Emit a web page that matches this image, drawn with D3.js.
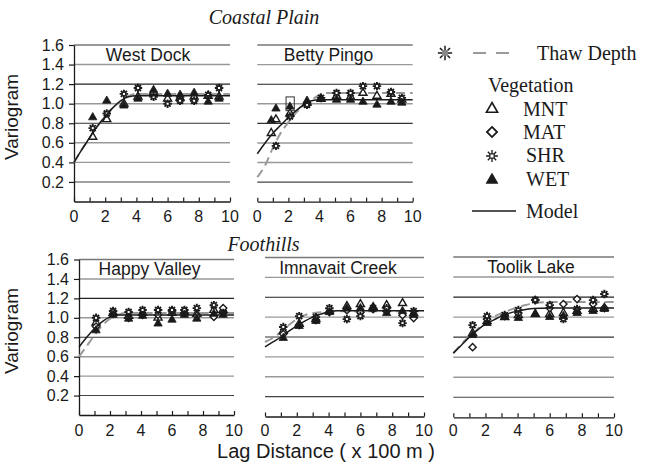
<!DOCTYPE html>
<html><head><meta charset="utf-8">
<script src="https://cdn.jsdelivr.net/npm/d3@7"></script>
<style>body{margin:0;background:#fff}svg{display:block}</style>
</head><body><svg id="c" width="653" height="470"></svg>
<script>
// ---------------- DATA ----------------
const yTicks = [0.2, 0.4, 0.6, 0.8, 1.0, 1.2, 1.4, 1.6];
const xTickLabels = [0, 2, 4, 6, 8, 10];
const xTicks = [0, 1, 2, 3, 4, 5, 6, 7, 8, 9, 10];
const vegTypes = ["MNT", "MAT", "SHR", "WET"];

// West Dock
const wdLag = [1.2, 2.1, 3.2, 4.1, 5.1, 6.0, 6.8, 7.7, 8.6, 9.3];
const wdMNT = [0.66, 0.84, 1.00, 1.07, 1.12, 1.05, 1.06, 1.07, 1.08, 1.07];
const wdMAT = [null, null, null, null, null, null, null, null, null, null];
const wdSHR = [0.75, 0.90, 1.10, 1.16, 1.07, 1.00, 1.03, 1.03, 1.09, 1.16];
const wdWET = [0.86, 1.03, 0.98, 1.05, 1.14, 1.10, 1.09, 1.11, 1.02, 1.05];

// Betty Pingo
const bpLag = [0.9, 1.2, 2.1, 3.2, 4.1, 5.1, 6.0, 6.8, 7.7, 8.6, 9.3];
const bpMNT = [0.70, 0.84, 0.90, 1.01, 1.05, 1.08, 1.07, 1.11, 1.08, 1.10, 1.04];
const bpMAT = [null, null, null, null, null, null, null, null, null, null, null];
const bpSHR = [null, 0.57, 0.87, 0.99, 1.06, 1.11, 1.11, 1.18, 1.18, 1.12, 1.06];
const bpWET = [0.83, 0.95, 0.97, 1.03, 1.05, 1.04, 1.04, 1.02, 0.99, 1.02, 1.01];
const bpBox = [1.85, 2.38, 0.93, 1.07]; // lag from, lag to, value from, value to

// Happy Valley
const hvLag = [1.1, 2.2, 3.2, 4.1, 5.1, 6.0, 6.8, 7.6, 8.7, 9.3];
const hvMNT = [0.95, 1.05, 1.02, 1.05, 1.00, 1.05, 1.06, 1.04, 1.08, 1.08];
const hvMAT = [0.91, 1.04, 1.00, 1.03, 1.03, 1.07, 1.05, 1.02, 1.01, 1.10];
const hvSHR = [1.00, 1.07, 1.06, 1.08, 1.08, 1.08, 1.08, 1.10, 1.13, 1.05];
const hvWET = [0.87, 1.03, 0.99, 1.02, 0.94, 0.98, 1.03, 0.99, 1.04, 1.03];

// Imnavait Creek
const icLag = [1.15, 2.15, 3.2, 4.05, 5.15, 6.0, 6.8, 7.65, 8.65, 9.35];
const icMNT = [0.86, 0.93, 0.98, 1.06, 1.11, 1.13, 1.10, 1.12, 1.14, 1.04];
const icMAT = [0.83, 0.92, 0.97, 1.05, 1.07, 1.05, 1.08, 1.06, 1.02, 0.99];
const icSHR = [0.90, 1.01, 1.00, 1.09, 0.98, 1.01, 1.09, 1.09, 0.94, 1.06];
const icWET = [0.79, 0.91, 0.96, 1.05, 1.09, 1.09, 1.09, 1.04, 1.06, 1.02];

// Toolik Lake
const tlLag = [1.2, 2.1, 3.2, 4.05, 5.1, 6.0, 6.85, 7.7, 8.7, 9.4];
const tlMNT = [0.84, 0.96, 1.00, 1.02, 1.03, 1.03, 1.04, 1.06, 1.08, 1.09];
const tlMAT = [0.70, 0.98, 1.01, 1.04, 1.17, 1.09, 1.13, 1.18, 1.13, 1.09];
const tlSHR = [0.92, 1.01, 1.02, 1.07, 1.17, 1.12, 0.98, 1.08, 1.17, 1.23];
const tlWET = [0.82, 0.94, 1.00, 0.99, 1.03, 1.00, 1.01, 1.04, 1.06, 1.08];

// Model (solid) and thaw-depth (dashed) curves
const curveLag = [0, 0.5, 1, 1.5, 2, 2.5, 3, 3.5, 4, 4.5, 5, 6, 7, 8, 9, 10];
const wdModel = [0.40, 0.53, 0.65, 0.77, 0.87, 0.96, 1.03, 1.07, 1.08, 1.08, 1.08, 1.08, 1.08, 1.08, 1.08, 1.08];
const wdThaw  = [0.40, 0.53, 0.65, 0.77, 0.87, 0.96, 1.03, 1.08, 1.10, 1.10, 1.10, 1.10, 1.10, 1.10, 1.10, 1.10];
const bpModel = [0.49, 0.60, 0.70, 0.78, 0.86, 0.93, 0.99, 1.03, 1.04, 1.04, 1.04, 1.04, 1.04, 1.04, 1.04, 1.04];
const bpThaw  = [0.25, 0.37, 0.55, 0.70, 0.81, 0.91, 0.98, 1.04, 1.09, 1.11, 1.11, 1.11, 1.11, 1.11, 1.11, 1.11];
const hvModel = [0.70, 0.80, 0.89, 0.96, 1.01, 1.03, 1.03, 1.03, 1.03, 1.03, 1.03, 1.03, 1.03, 1.03, 1.03, 1.03];
const hvThaw  = [0.60, 0.71, 0.82, 0.92, 0.99, 1.03, 1.05, 1.05, 1.05, 1.05, 1.05, 1.05, 1.05, 1.05, 1.05, 1.05];
const icModel = [0.70, 0.75, 0.80, 0.86, 0.91, 0.96, 1.00, 1.03, 1.055, 1.065, 1.065, 1.065, 1.065, 1.065, 1.065, 1.065];
const icThaw  = [0.75, 0.79, 0.85, 0.92, 0.98, 1.02, 1.04, 1.05, 1.055, 1.06, 1.06, 1.06, 1.06, 1.06, 1.06, 1.06];
const tlModel = [0.64, 0.72, 0.80, 0.87, 0.93, 0.97, 1.01, 1.04, 1.06, 1.075, 1.085, 1.09, 1.09, 1.09, 1.09, 1.09];
const tlThaw  = [0.64, 0.73, 0.81, 0.88, 0.95, 1.00, 1.04, 1.07, 1.10, 1.12, 1.14, 1.15, 1.15, 1.15, 1.15, 1.15];

// ---------------- LAYOUT / STYLE ----------------
const SANS = "'Liberation Sans', Arial, Helvetica, sans-serif";
const SERIF = "'Liberation Serif', 'Times New Roman', serif";
const INK = "#1a1a1a";
const GRAY = "#9a9a9a";
const gridStyle = { // per level
  "0.2": ["#444", 1.1], "0.4": ["#999", 1.4], "0.6": ["#999", 1.4], "0.8": ["#333", 1.1],
  "1": ["#999", 1.4], "1.2": ["#222", 1.1], "1.4": ["#999", 1.4], "1.6": ["#777", 1.3]
};

const panels = [
  {title: "West Dock", lag: wdLag, s: {MNT: wdMNT, MAT: wdMAT, SHR: wdSHR, WET: wdWET}, model: wdModel, thaw: wdThaw,
   x0: 74, x1: 230, yTop: 45, yBot: 201.5, yAxis: true, tx: 148, ty: 61, lblY: 222},
  {title: "Betty Pingo", lag: bpLag, s: {MNT: bpMNT, MAT: bpMAT, SHR: bpSHR, WET: bpWET}, model: bpModel, thaw: bpThaw, box: bpBox,
   x0: 257.3, x1: 412.7, yTop: 45, yBot: 201.7, yAxis: false, tx: 328.5, ty: 61, lblY: 222},
  {title: "Happy Valley", lag: hvLag, s: {MNT: hvMNT, MAT: hvMAT, SHR: hvSHR, WET: hvWET}, model: hvModel, thaw: hvThaw,
   x0: 79, x1: 234, yTop: 259.5, yBot: 415, yAxis: true, tx: 149.5, ty: 275, lblY: 436},
  {title: "Imnavait Creek", lag: icLag, s: {MNT: icMNT, MAT: icMAT, SHR: icSHR, WET: icWET}, model: icModel, thaw: icThaw,
   x0: 265, x1: 424, yTop: 257.5, yBot: 416.5, yAxis: false, tx: 338, ty: 274, lblY: 436},
  {title: "Toolik Lake", lag: tlLag, s: {MNT: tlMNT, MAT: tlMAT, SHR: tlSHR, WET: tlWET}, model: tlModel, thaw: tlThaw,
   x0: 453.3, x1: 614, yTop: 257, yBot: 417.3, yAxis: false, tx: 531, ty: 273, lblY: 436}
];

// custom 8-spoke star symbol
const symStar = {
  draw(ctx, size) {
    const r = Math.sqrt(size) / 1.6;
    for (let i = 0; i < 8; i++) {
      const a = i * Math.PI / 4;
      ctx.moveTo(Math.cos(a) * r * 0.25, Math.sin(a) * r * 0.25);
      ctx.lineTo(Math.cos(a) * r, Math.sin(a) * r);
    }
  }
};
// square diamond (rotated square)
const symDiamond = {
  draw(ctx, size) {
    const r = Math.sqrt(size) / 1.4;
    ctx.moveTo(0, -r); ctx.lineTo(r, 0); ctx.lineTo(0, r); ctx.lineTo(-r, 0); ctx.closePath();
  }
};

function drawSymbol(g, type, cx, cy, scale, legend) {
  const k = scale || 1;
  if (type === "MNT") {
    g.append("path").attr("d", d3.symbol().type(d3.symbolTriangle).size(28 * k * k)())
      .attr("transform", `translate(${cx},${cy})`).attr("fill", "#fff").attr("stroke", INK).attr("stroke-width", legend ? 1.6 : 1.4);
  } else if (type === "WET") {
    g.append("path").attr("d", d3.symbol().type(d3.symbolTriangle).size(30 * k * k)())
      .attr("transform", `translate(${cx},${cy})`).attr("fill", INK).attr("stroke", INK).attr("stroke-width", 0.8);
  } else if (type === "MAT") {
    g.append("path").attr("d", d3.symbol().type(symDiamond).size(26 * k * k)())
      .attr("transform", `translate(${cx},${cy})`).attr("fill", "#fff").attr("stroke", INK).attr("stroke-width", legend ? 1.8 : 1.4);
  } else if (type === "SHR") {
    g.append("path").attr("d", d3.symbol().type(symStar).size(46 * k * k)())
      .attr("transform", `translate(${cx},${cy})`).attr("fill", "none").attr("stroke", INK)
      .attr("stroke-width", legend ? 1.3 : 1.9);
    g.append("rect").attr("x", cx - 1.5 * k).attr("y", cy - 1.5 * k).attr("width", 3 * k).attr("height", 3 * k)
      .attr("fill", "#fff").attr("stroke", INK).attr("stroke-width", legend ? 1.1 : 0.9);
  }
}

const svg = d3.select("#c");

panels.forEach(p => {
  const x = d3.scaleLinear().domain([0, 10]).range([p.x0, p.x1]);
  const y = d3.scaleLinear().domain([0, 1.6]).range([p.yBot, p.yTop]);
  const g = svg.append("g");

  // gridlines
  yTicks.forEach(v => {
    const st = gridStyle[String(v)];
    g.append("line").attr("x1", x(0)).attr("x2", x(10)).attr("y1", y(v)).attr("y2", y(v))
      .attr("stroke", st[0]).attr("stroke-width", st[1]);
  });

  // x axis (ticks pointing up)
  const xa = g.append("g").attr("transform", `translate(0,${y(0)})`)
    .call(d3.axisTop(x).tickValues(xTicks).tickSize(4).tickSizeOuter(0).tickFormat(""));
  xa.select(".domain").attr("stroke", INK).attr("stroke-width", 1.3);
  xa.selectAll(".tick line").attr("stroke", INK).attr("stroke-width", 1.2);
  g.selectAll("text.xl").data(xTickLabels).enter().append("text").attr("class", "xl")
    .attr("x", d => x(d)).attr("y", p.lblY).attr("text-anchor", "middle")
    .attr("font-family", SANS).attr("font-size", 16).attr("fill", INK).text(d => d);

  // y axis
  if (p.yAxis) {
    const ya = g.append("g").attr("transform", `translate(${x(0)},0)`)
      .call(d3.axisLeft(y).tickValues(yTicks).tickSize(5).tickSizeOuter(0).tickPadding(5).tickFormat(d3.format(".1f")));
    ya.select(".domain").attr("stroke", INK).attr("stroke-width", 1.3);
    ya.selectAll(".tick line").attr("stroke", INK).attr("stroke-width", 1.2);
    ya.selectAll("text").attr("font-family", SANS).attr("font-size", 16).attr("fill", INK);
  }

  // title
  g.append("text").attr("x", p.tx).attr("y", p.ty).attr("text-anchor", "middle")
    .attr("font-family", SANS).attr("font-size", 17.5).attr("fill", INK).text(p.title);

  const line = d3.line().x((d, i) => x(curveLag[i])).y(d => y(d)).curve(d3.curveMonotoneX);
  // thaw depth (dashed gray)
  g.append("path").attr("d", line(p.thaw)).attr("fill", "none").attr("stroke", GRAY)
    .attr("stroke-width", 2).attr("stroke-dasharray", "9,5");

  // points
  vegTypes.forEach(t => {
    p.s[t].forEach((v, i) => {
      if (v != null) drawSymbol(g, t, x(p.lag[i]), y(v), 1, false);
    });
  });

  // model (solid)
  g.append("path").attr("d", line(p.model)).attr("fill", "none").attr("stroke", INK).attr("stroke-width", 1.5);

  if (p.box) {
    g.append("rect").attr("x", x(p.box[0])).attr("y", y(p.box[3]))
      .attr("width", x(p.box[1]) - x(p.box[0])).attr("height", y(p.box[2]) - y(p.box[3]))
      .attr("fill", "none").attr("stroke", "#333").attr("stroke-width", 1);
  }
});

// y-axis titles
[[12, 117], [12, 331]].forEach(([cx, cy]) => {
  svg.append("text").attr("transform", `translate(${cx + 6},${cy}) rotate(-90)`).attr("text-anchor", "middle")
    .attr("font-family", SANS).attr("font-size", 19).attr("fill", INK).text("Variogram");
});

// section titles
svg.append("text").attr("x", 264).attr("y", 24).attr("text-anchor", "middle")
  .attr("font-family", SERIF).attr("font-style", "italic").attr("font-size", 20).attr("fill", INK).text("Coastal Plain");
svg.append("text").attr("x", 263.5).attr("y", 251).attr("text-anchor", "middle")
  .attr("font-family", SERIF).attr("font-style", "italic").attr("font-size", 20).attr("fill", INK).text("Foothills");
svg.append("text").attr("x", 326).attr("y", 458).attr("text-anchor", "middle")
  .attr("font-family", SANS).attr("font-size", 20).attr("fill", INK).text("Lag Distance ( x 100 m )");

// legend
const lg = svg.append("g");
lg.append("path").attr("d", d3.symbol().type(symStar).size(130)())
  .attr("transform", "translate(445,53)").attr("fill", "none").attr("stroke", INK).attr("stroke-width", 1.5);
lg.append("rect").attr("x", 442).attr("y", 50).attr("width", 6).attr("height", 6).attr("fill", "#888");
lg.append("line").attr("x1", 473).attr("x2", 516).attr("y1", 53).attr("y2", 53)
  .attr("stroke", GRAY).attr("stroke-width", 2).attr("stroke-dasharray", "13,10");
lg.append("text").attr("x", 537).attr("y", 60).attr("font-family", SERIF).attr("font-size", 20).attr("fill", INK).text("Thaw Depth");
lg.append("text").attr("x", 488).attr("y", 92).attr("font-family", SERIF).attr("font-size", 20).attr("fill", INK).text("Vegetation");
const legRows = [["MNT", 109, 116], ["MAT", 132, 139], ["SHR", 156, 162], ["WET", 180, 186]];
legRows.forEach(([t, cy, by]) => {
  drawSymbol(lg, t, 492, cy, 1.4, true);
  lg.append("text").attr("x", t === "SHR" || t === "WET" ? 526 : 523).attr("y", by)
    .attr("font-family", SERIF).attr("font-size", 20).attr("fill", INK).text(t);
});
lg.append("line").attr("x1", 472).attr("x2", 516).attr("y1", 211).attr("y2", 211).attr("stroke", INK).attr("stroke-width", 1.3);
lg.append("text").attr("x", 526).attr("y", 218).attr("font-family", SERIF).attr("font-size", 20).attr("fill", INK).text("Model");
</script></body></html>
